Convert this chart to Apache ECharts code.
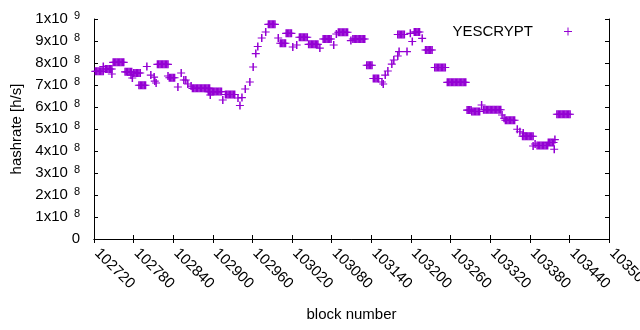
<!DOCTYPE html>
<html>
<head>
<meta charset="utf-8">
<script src="https://cdn.jsdelivr.net/npm/echarts@6/dist/echarts.min.js"></script>
<style>
  body { margin: 0; background: #fff; }
  #chart { width: 640px; height: 330px; }
</style>
</head>
<body>
<div id="chart"></div>
<script>
// block numbers and hashrate (in units of 1e8 h/s), one line per group
const blockNumber = [
  102722, 102724, 102726, 102728, 102730, 102732, 102734,
  102734,
  102737, 102739, 102741, 102743, 102745, 102747,
  102747,
  102749, 102751, 102753, 102755, 102757, 102759, 102761, 102763, 102765,
  102767, 102769, 102771, 102773, 102775, 102777,
  102776, 102778,
  102780, 102782, 102784, 102786, 102788, 102790,
  102788, 102790, 102792, 102794, 102796, 102798,
  102800, 102806,
  102811, 102812, 102814,
  102816, 102818, 102820, 102822, 102824, 102826, 102828, 102830, 102832,
  102832,
  102834, 102836, 102838, 102840, 102842,
  102847, 102852, 102856, 102859, 102862, 102867,
  102869, 102871, 102873, 102875, 102877, 102879, 102881, 102883, 102885, 102887, 102889, 102891, 102893, 102895,
  102896,
  102893, 102895, 102897, 102899, 102901, 102903, 102905, 102907, 102909, 102911, 102913,
  102915,
  102919, 102921, 102923, 102925, 102927, 102929, 102931, 102933,
  102938, 102941, 102944, 102949, 102956, 102961, 102965, 102968, 102974, 102980,
  102984, 102986, 102988, 102990, 102992, 102994,
  102999,
  103002, 103004, 103006, 103008, 103010,
  103011, 103013, 103015, 103017, 103019,
  103021, 103027,
  103031, 103033, 103035, 103037, 103039, 103041, 103043,
  103045, 103047, 103049, 103051, 103053, 103055, 103057, 103059,
  103062,
  103067, 103069, 103071, 103073, 103075, 103077, 103079,
  103083, 103087,
  103090, 103092, 103094, 103096, 103098, 103100, 103102, 103104,
  103109,
  103112, 103114, 103116, 103118, 103120, 103122, 103124, 103126, 103128, 103130,
  103133, 103135, 103137, 103139, 103141,
  103143, 103145, 103147, 103149, 103151,
  103156, 103158, 103161, 103165, 103171, 103174, 103180, 103182,
  103180, 103182, 103184, 103186, 103188, 103190,
  103194, 103199, 103202,
  103205, 103207, 103209, 103211, 103213,
  103217,
  103222, 103224, 103226, 103228, 103230, 103232,
  103236, 103238, 103240, 103242, 103244, 103246, 103248, 103250, 103252,
  103255, 103257, 103259, 103261, 103263, 103265, 103267, 103269, 103271, 103273, 103275, 103277, 103279, 103281, 103283,
  103285, 103287, 103289, 103291,
  103292, 103294, 103296, 103298, 103300, 103302, 103304,
  103307,
  103310, 103312, 103314, 103316, 103318, 103320, 103322, 103324, 103326, 103328, 103330, 103332, 103334, 103336,
  103338, 103341,
  103343, 103345, 103347, 103349, 103351, 103353, 103355, 103357,
  103361, 103365, 103370,
  103369, 103371, 103373, 103375, 103377, 103379, 103381, 103383, 103385,
  103385, 103388,
  103391, 103393, 103395, 103397, 103399, 103401, 103403, 103405, 103407,
  103408, 103410, 103412, 103414, 103416,
  103417, 103418,
  103421, 103423, 103425, 103427, 103429, 103431, 103433, 103435, 103437, 103439, 103441
];

const hashrate = [
  7.62, 7.62, 7.62, 7.62, 7.62, 7.62, 7.62,
  7.84,
  7.73, 7.73, 7.73, 7.73, 7.73, 7.73,
  7.50,
  8.03, 8.03, 8.03, 8.03, 8.03, 8.03, 8.03, 8.03, 8.03,
  7.60, 7.60, 7.60, 7.60, 7.60, 7.60,
  7.45, 7.32,
  7.55, 7.55, 7.55, 7.55, 7.55, 7.55,
  6.99, 6.99, 6.99, 6.99, 6.99, 6.99,
  7.84, 7.45,
  7.36, 7.18, 7.09,
  7.94, 7.94, 7.94, 7.94, 7.94, 7.94, 7.94, 7.94, 7.94,
  7.41,
  7.33, 7.33, 7.33, 7.33, 7.33,
  6.91, 7.55, 7.23, 7.23, 7.05, 6.95,
  6.85, 6.85, 6.85, 6.85, 6.85, 6.85, 6.85, 6.85, 6.85, 6.85, 6.85, 6.85, 6.85, 6.85,
  6.55,
  6.70, 6.70, 6.70, 6.70, 6.70, 6.70, 6.70, 6.70, 6.70, 6.70, 6.70,
  6.32,
  6.57, 6.57, 6.57, 6.57, 6.57, 6.57, 6.57, 6.57,
  6.41, 6.07, 6.43, 6.82, 7.14, 7.82, 8.43, 8.75, 9.14, 9.41,
  9.76, 9.76, 9.76, 9.76, 9.76, 9.76,
  9.14,
  8.90, 8.90, 8.90, 8.90, 8.90,
  9.35, 9.35, 9.35, 9.35, 9.35,
  8.73, 8.82,
  9.17, 9.17, 9.17, 9.17, 9.17, 9.17, 9.17,
  8.85, 8.85, 8.85, 8.85, 8.85, 8.85, 8.85, 8.85,
  8.68,
  9.09, 9.09, 9.09, 9.09, 9.09, 9.09, 9.09,
  8.82, 9.32,
  9.40, 9.40, 9.40, 9.40, 9.40, 9.40, 9.40, 9.40,
  9.02,
  9.09, 9.09, 9.09, 9.09, 9.09, 9.09, 9.09, 9.09, 9.09, 9.09,
  7.90, 7.90, 7.90, 7.90, 7.90,
  7.30, 7.30, 7.30, 7.30, 7.30,
  7.14, 7.05, 7.45, 7.64, 7.95, 8.14, 8.32, 8.52,
  9.30, 9.30, 9.30, 9.30, 9.30, 9.30,
  8.52, 9.35, 8.98,
  9.41, 9.41, 9.41, 9.41, 9.41,
  9.12,
  8.59, 8.59, 8.59, 8.59, 8.59, 8.59,
  7.80, 7.80, 7.80, 7.80, 7.80, 7.80, 7.80, 7.80, 7.80,
  7.12, 7.12, 7.12, 7.12, 7.12, 7.12, 7.12, 7.12, 7.12, 7.12, 7.12, 7.12, 7.12, 7.12, 7.12,
  5.86, 5.86, 5.86, 5.86,
  5.80, 5.80, 5.80, 5.80, 5.80, 5.80, 5.80,
  6.09,
  5.88, 5.88, 5.88, 5.88, 5.88, 5.88, 5.88, 5.88, 5.88, 5.88, 5.88, 5.88, 5.88, 5.88,
  5.64, 5.49,
  5.40, 5.40, 5.40, 5.40, 5.40, 5.40, 5.40, 5.40,
  4.99, 4.88, 4.82,
  4.67, 4.67, 4.67, 4.67, 4.67, 4.67, 4.67, 4.67, 4.67,
  4.23, 4.32,
  4.25, 4.25, 4.25, 4.25, 4.25, 4.25, 4.25, 4.25, 4.25,
  4.39, 4.39, 4.39, 4.39, 4.39,
  4.08, 4.52,
  5.67, 5.67, 5.67, 5.67, 5.67, 5.67, 5.67, 5.67, 5.67, 5.67, 5.67
];

const seriesName = 'YESCRYPT';
const xTicks = { min: 102720, max: 103500, step: 60 };

const font = "'Liberation Sans', Arial, sans-serif";
// gnuplot style "+" point, slightly wider vertical stroke so runs merge into solid blocks
const plusIcon = 'path://M0,3.5H8V4.6H0Z M3.3,0H4.8V8H3.3Z';

const chart = echarts.init(document.getElementById('chart'));

const mirrorAxis = {
  axisLine: { show: true, lineStyle: { color: '#000', width: 1 } },
  axisTick: { show: true, inside: true, length: 4, lineStyle: { color: '#000' } },
  axisLabel: { show: false },
  splitLine: { show: false }
};

const option = {
  animation: false,
  grid: { left: 94, right: 31, top: 19, bottom: 91, outerBoundsMode: 'none', containLabel: false },
  legend: {
    data: [seriesName],
    right: 68,
    top: 24,
    padding: 0,
    align: 'right',
    icon: 'path://M0,3.5H8V4.5H0Z M3.5,0H4.5V8H3.5Z',
    itemWidth: 8,
    itemHeight: 8,
    selectedMode: false,
    textStyle: { fontSize: 15, fontFamily: font, color: '#000', padding: [0, 26, 0, 0] }
  },
  xAxis: [
    {
      type: 'value',
      min: xTicks.min,
      max: xTicks.max,
      interval: xTicks.step,
      name: 'block number',
      nameLocation: 'middle',
      nameGap: 68,
      nameTextStyle: { fontSize: 15, fontFamily: font, color: '#000' },
      axisLine: { onZero: false, lineStyle: { color: '#000', width: 1 } },
      axisTick: { inside: true, length: 4, lineStyle: { color: '#000' } },
      axisLabel: {
        rotate: -45, margin: 9, padding: [0, 0, 0, 4],
        fontSize: 15, fontFamily: font, color: '#000',
        formatter: v => String(v)
      },
      splitLine: { show: false }
    },
    Object.assign({ type: 'value', position: 'top', min: xTicks.min, max: xTicks.max, interval: xTicks.step }, mirrorAxis)
  ],
  yAxis: [
    {
      type: 'value',
      min: 0,
      max: 10,
      interval: 1,
      name: 'hashrate [h/s]',
      nameLocation: 'middle',
      nameGap: 70,
      nameTextStyle: { fontSize: 15, fontFamily: font, color: '#000' },
      axisLine: { show: true, onZero: false, lineStyle: { color: '#000', width: 1 } },
      axisTick: { show: true, inside: true, length: 4, lineStyle: { color: '#000' } },
      axisLabel: {
        margin: 14,
        fontFamily: font,
        color: '#000',
        formatter: function (v) {
          if (v === 0) return '{m|0}';
          if (v === 10) return '{m|1x10}{s|9}';
          return '{m|' + v + 'x10}{s|8}';
        },
        rich: {
          m: { fontSize: 15, lineHeight: 18, fontFamily: font, color: '#000' },
          s: { fontSize: 11, lineHeight: 9, verticalAlign: 'top', padding: [0, 0, 0, 6], fontFamily: font, color: '#000' }
        }
      },
      splitLine: { show: false }
    },
    Object.assign({ type: 'value', position: 'right', min: 0, max: 10, interval: 1 }, mirrorAxis)
  ],
  series: [
    {
      name: seriesName,
      type: 'scatter',
      symbol: plusIcon,
      symbolSize: 8,
      silent: true,
      itemStyle: { color: '#9400d3', opacity: 1 },
      data: blockNumber.map((b, i) => [b, hashrate[i]])
    }
  ]
};

chart.setOption(option);
</script>
</body>
</html>
